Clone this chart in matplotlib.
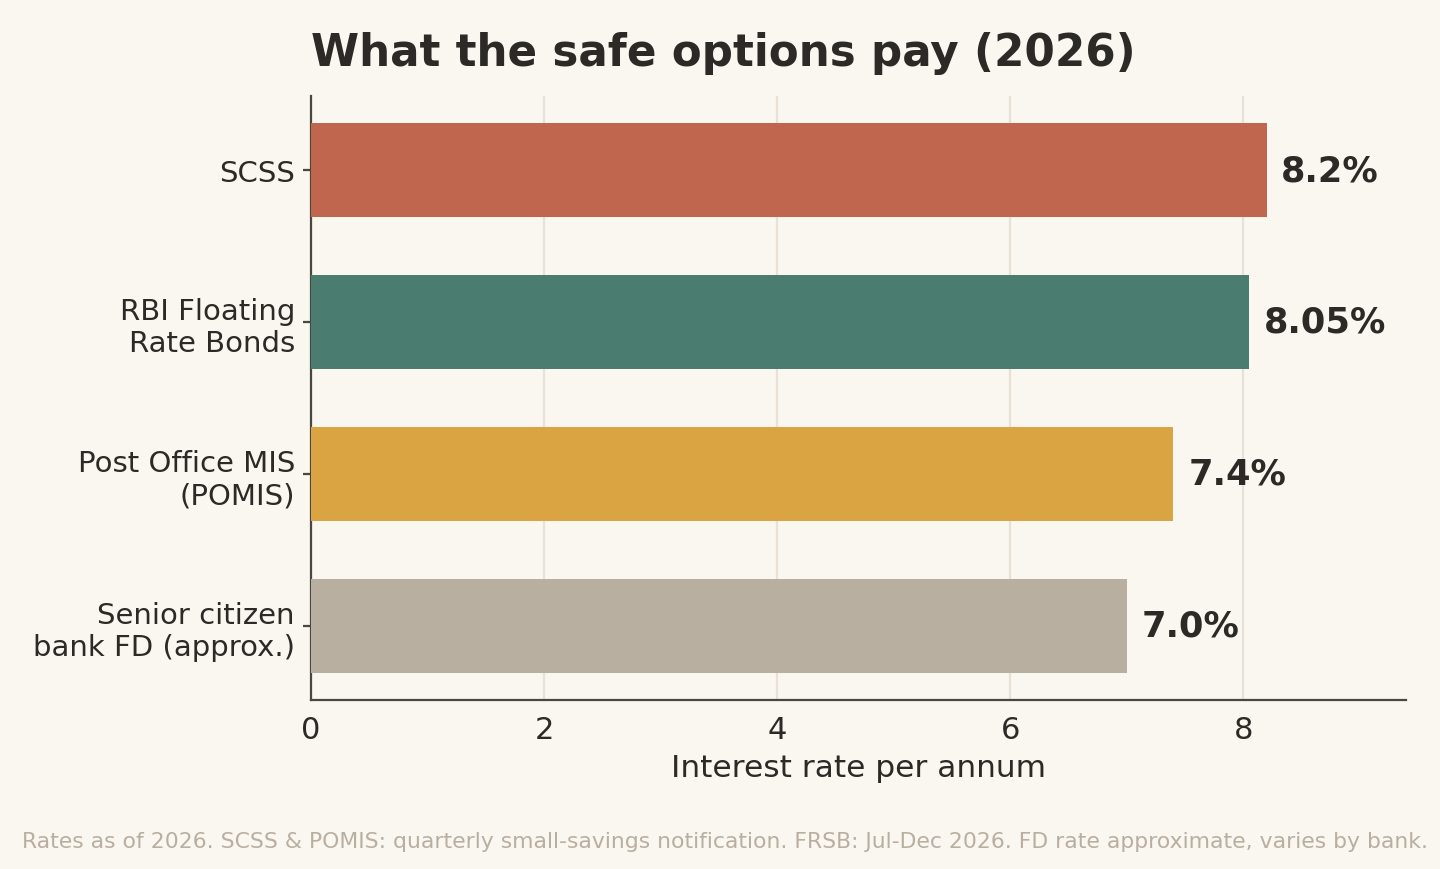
import numpy as np
import matplotlib.pyplot as plt

# Data
options = ["SCSS", "RBI Floating\nRate Bonds", "Post Office MIS\n(POMIS)",
           "Senior citizen\nbank FD (approx.)"]
rates = [8.2, 8.05, 7.4, 7.0]
rate_labels = ["8.2%", "8.05%", "7.4%", "7.0%"]
colors = ["#C0654E", "#4A7C70", "#D9A441", "#B8AFA1"]

bg = "#FAF6F0"
ink = "#2B2A26"

fig = plt.figure(figsize=(7.2, 4.35), dpi=200, facecolor=bg)
ax = fig.add_axes([0.216, 0.194, 0.7605, 0.695], facecolor=bg)

y = np.arange(len(options))
ax.barh(y, rates, height=0.62, color=colors, zorder=3)
ax.invert_yaxis()
ax.set_yticks(y)
ax.set_yticklabels(options, fontsize=10.5, color=ink)
ax.set_xlim(0, max(rates) * 1.146)

# value labels at the bar ends
for yi, r, lab in zip(y, rates, rate_labels):
    ax.annotate(lab, (r, yi), xytext=(5.3, 0), textcoords="offset points",
                va="center", ha="left", fontsize=12.7, fontweight="bold", color=ink)

ax.grid(axis="x", color="#E8E1D6", linewidth=0.8, zorder=0)
ax.set_axisbelow(True)
for s in ["top", "right"]:
    ax.spines[s].set_visible(False)
for s in ["left", "bottom"]:
    ax.spines[s].set_color("#4A4640")
    ax.spines[s].set_linewidth(0.8)
ax.tick_params(axis="x", labelsize=11, colors=ink, length=0, pad=5.5)
ax.tick_params(axis="y", colors="#4A4640", labelcolor=ink, length=3, width=0.8, pad=2.8)
ax.set_xlabel("Interest rate per annum", fontsize=11.25, color=ink, labelpad=3)

fig.text(0.216, 0.938, "What the safe options pay (2026)", fontsize=15.7,
         fontweight="bold", color=ink, ha="left", va="center")
fig.text(0.015, 0.032, "Rates as of 2026. SCSS & POMIS: quarterly small-savings notification. "
         "FRSB: Jul-Dec 2026. FD rate approximate, varies by bank.",
         fontsize=7.9, color="#B8AFA1", ha="left", va="center")

fig.savefig("out.png", dpi=200, facecolor=bg)
